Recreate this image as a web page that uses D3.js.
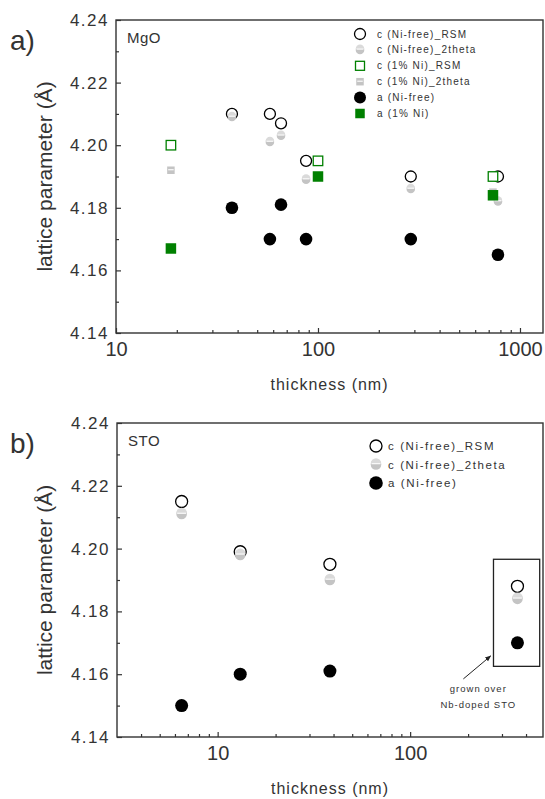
<!DOCTYPE html>
<html>
<head>
<meta charset="utf-8">
<script src="https://cdn.jsdelivr.net/npm/d3@7"></script>
<style>
  body { margin: 0; background: #fff; }
  svg text { font-family: "Liberation Sans", Arial, sans-serif; fill: #333; }
</style>
</head>
<body>
<svg id="main" width="545" height="799"></svg>
<script>
// ---- panel a) MgO ----
const thickNiFreeA = [37.5, 57.8, 65.6, 87.3, 288, 778];
const cRsmNiFreeA = [4.210, 4.210, 4.207, 4.195, 4.190, 4.190];
const c2thNiFreeA = [4.209, 4.201, 4.203, 4.189, 4.186, 4.182];
const aNiFreeA = [4.180, 4.170, 4.181, 4.170, 4.170, 4.165];
const thickNiA = [18.7, 100, 735];
const cRsmNiA = [4.200, 4.195, 4.190];
const c2thNiA = [4.192, 4.190, 4.185];
const aNiA = [4.167, 4.190, 4.184];
const legendA = ["c (Ni-free)_RSM", "c (Ni-free)_2theta", "c (1% Ni)_RSM",
  "c (1% Ni)_2theta", "a (Ni-free)", "a (1% Ni)"];

// ---- panel b) STO ----
const thickB = [6.5, 13.1, 38.3, 361];
const cRsmB = [4.215, 4.199, 4.195, 4.188];
const c2thB = [4.211, 4.198, 4.190, 4.184];
const aB = [4.150, 4.160, 4.161, 4.170];
const legendB = ["c (Ni-free)_RSM", "c (Ni-free)_2theta", "a (Ni-free)"];
const noteB = ["grown over", "Nb-doped STO"];

// axes
const yMajor = [4.14, 4.16, 4.18, 4.20, 4.22, 4.24];
const yMinor = [4.15, 4.17, 4.19, 4.21, 4.23];
const xMajorA = [10, 100, 1000];
const xMinorA = [20, 30, 40, 50, 60, 70, 80, 90, 200, 300, 400, 500, 600, 700, 800, 900];
const xMajorB = [10, 100];
const xMinorB = [4, 5, 6, 7, 8, 9, 20, 30, 40, 50, 60, 70, 80, 90, 200, 300, 400];

const svg = d3.select("#main");
const GREEN = "#008000";

// marker helpers
function openCircle(g, r) {
  g.append("circle").attr("r", r).attr("fill", "none")
    .attr("stroke", "#000").attr("stroke-width", 1.3);
}
function halfCircle(g, r) {
  g.append("circle").attr("r", r).attr("fill", "#c4c4c4");
  g.append("path").attr("d", `M${-r},-1 A${r},${r} 0 0 1 ${r},-1 Z`).attr("fill", "#dadada");
  g.append("line").attr("x1", -r + 0.8).attr("x2", r - 0.8).attr("y1", -0.8).attr("y2", -0.8)
    .attr("stroke", "#fff").attr("stroke-width", 1.1);
}
function openSquare(g, s) {
  g.append("rect").attr("x", -s / 2).attr("y", -s / 2).attr("width", s).attr("height", s)
    .attr("fill", "#fff").attr("stroke", GREEN).attr("stroke-width", 1.3);
}
function graySquare(g, s) {
  g.append("rect").attr("x", -s / 2).attr("y", -s / 2).attr("width", s).attr("height", s)
    .attr("fill", "#c4c4c4");
  g.append("line").attr("x1", -s / 2 + 1).attr("x2", s / 2 - 1).attr("y1", -0.5).attr("y2", -0.5)
    .attr("stroke", "#fff").attr("stroke-width", 1.1);
}
function dot(g, r) {
  g.append("circle").attr("r", r).attr("fill", "#000");
}
function greenSquare(g, s) {
  g.append("rect").attr("x", -s / 2).attr("y", -s / 2).attr("width", s).attr("height", s)
    .attr("fill", GREEN);
}

function drawSeries(root, x, y, xs, ys, draw) {
  xs.forEach((xv, i) => {
    const g = root.append("g").attr("transform", `translate(${x(xv)},${y(ys[i])})`);
    draw(g);
  });
}

function makePanel(p) {
  const x = d3.scaleLog().domain(p.xDomain).range([p.left, p.right]);
  const y = d3.scaleLinear().domain([4.14, 4.24]).range([p.bottom, p.top]);

  // frame
  svg.append("rect").attr("x", p.left).attr("y", p.top)
    .attr("width", p.right - p.left).attr("height", p.bottom - p.top)
    .attr("fill", "none").attr("stroke", "#333").attr("stroke-width", 1.4);

  // x axis
  const gx = svg.append("g").attr("transform", `translate(0,${p.bottom})`);
  gx.call(d3.axisBottom(x).tickValues(p.xMajor).tickSize(-5).tickPadding(9)
      .tickFormat(d3.format("d")))
    .call(g => g.select(".domain").remove())
    .call(g => g.selectAll("line").attr("stroke", "#333").attr("stroke-width", 1.2))
    .call(g => g.selectAll("text").attr("font-size", 20).attr("fill", "#333"));
  svg.append("g").attr("transform", `translate(0,${p.bottom})`)
    .call(d3.axisBottom(x).tickValues(p.xMinor).tickSize(-3).tickFormat(""))
    .call(g => g.select(".domain").remove())
    .call(g => g.selectAll("line").attr("stroke", "#333").attr("stroke-width", 1.2));

  // y axis
  svg.append("g").attr("transform", `translate(${p.left},0)`)
    .call(d3.axisLeft(y).tickValues(yMajor).tickSize(-5).tickPadding(7)
      .tickFormat(d3.format(".2f")))
    .call(g => g.select(".domain").remove())
    .call(g => g.selectAll("line").attr("stroke", "#333").attr("stroke-width", 1.2))
    .call(g => g.selectAll("text").attr("font-size", 17).attr("letter-spacing", "1.5px")
      .attr("fill", "#333"));
  svg.append("g").attr("transform", `translate(${p.left},0)`)
    .call(d3.axisLeft(y).tickValues(yMinor).tickSize(-3).tickFormat(""))
    .call(g => g.select(".domain").remove())
    .call(g => g.selectAll("line").attr("stroke", "#333").attr("stroke-width", 1.2));

  // axis titles
  svg.append("text").attr("x", (p.left + p.right) / 2).attr("y", p.bottom + 57)
    .attr("text-anchor", "middle").attr("font-size", 16).attr("letter-spacing", "1px")
    .text("thickness (nm)");
  svg.append("text")
    .attr("transform", `translate(52,${(p.top + p.bottom) / 2}) rotate(-90)`)
    .attr("text-anchor", "middle").attr("font-size", 21)
    .text("lattice parameter (Å)");

  // panel letter & substrate
  svg.append("text").attr("x", 10).attr("y", p.top + 30).attr("font-size", 28)
    .attr("fill", "#222").text(p.letter);
  svg.append("text").attr("x", p.left + 11).attr("y", p.top + 23).attr("font-size", 15)
    .attr("letter-spacing", "0.5px").text(p.name);

  return { x, y };
}

// ===== panel a =====
const pa = { left: 116, right: 543, top: 20, bottom: 333, xDomain: [10, 1300],
  xMajor: xMajorA, xMinor: xMinorA, letter: "a)", name: "MgO" };
const A = makePanel(pa);
const plotA = svg.append("g");
drawSeries(plotA, A.x, A.y, thickNiFreeA, cRsmNiFreeA, g => openCircle(g, 5.5));
drawSeries(plotA, A.x, A.y, thickNiFreeA, c2thNiFreeA, g => halfCircle(g, 4.3));
drawSeries(plotA, A.x, A.y, thickNiA, cRsmNiA, g => openSquare(g, 9.5));
drawSeries(plotA, A.x, A.y, thickNiA, c2thNiA, g => graySquare(g, 7.5));
drawSeries(plotA, A.x, A.y, thickNiFreeA, aNiFreeA, g => dot(g, 6.3));
drawSeries(plotA, A.x, A.y, thickNiA, aNiA, g => greenSquare(g, 10.5));

// legend a
const legA = svg.append("g").attr("transform", "translate(360,34)");
const markA = [g => openCircle(g, 5.5), g => halfCircle(g, 4.3), g => openSquare(g, 9),
  g => graySquare(g, 7.5), g => dot(g, 6), g => greenSquare(g, 9.5)];
legendA.forEach((t, i) => {
  const row = legA.append("g").attr("transform", `translate(0,${i * 15.9})`);
  markA[i](row);
  row.append("text").attr("x", 17).attr("y", 3.5).attr("font-size", 10)
    .attr("letter-spacing", "1.2px").attr("fill", "#666").text(t);
});

// ===== panel b =====
const pb = { left: 117, right: 543, top: 423, bottom: 737, xDomain: [3, 490],
  xMajor: xMajorB, xMinor: xMinorB, letter: "b)", name: "STO" };
const B = makePanel(pb);
const plotB = svg.append("g");
drawSeries(plotB, B.x, B.y, thickB, cRsmB, g => openCircle(g, 6));
drawSeries(plotB, B.x, B.y, thickB, c2thB, g => halfCircle(g, 5.3));
drawSeries(plotB, B.x, B.y, thickB, aB, g => dot(g, 6.5));

// legend b
const legB = svg.append("g").attr("transform", "translate(376,446)");
const markB = [g => openCircle(g, 6), g => halfCircle(g, 5.3), g => dot(g, 6.8)];
legendB.forEach((t, i) => {
  const row = legB.append("g").attr("transform", `translate(0,${i * 18.5})`);
  markB[i](row);
  row.append("text").attr("x", 12).attr("y", 4).attr("font-size", 11.5)
    .attr("letter-spacing", "1.6px").attr("fill", "#555").text(t);
});

// box around the Nb-doped STO sample + arrow note
const boxX = [271, 471], boxY = [4.1966, 4.1625];
svg.append("rect").attr("x", B.x(boxX[0])).attr("y", B.y(boxY[0]))
  .attr("width", B.x(boxX[1]) - B.x(boxX[0])).attr("height", B.y(boxY[1]) - B.y(boxY[0]))
  .attr("fill", "none").attr("stroke", "#222").attr("stroke-width", 1.3);

svg.append("defs").append("marker").attr("id", "arr").attr("viewBox", "0 0 10 10")
  .attr("refX", 9).attr("refY", 5).attr("markerWidth", 6).attr("markerHeight", 6)
  .attr("orient", "auto")
  .append("path").attr("d", "M0,1 L10,5 L0,9 Z").attr("fill", "#222");
const arrowFrom = [189, 4.1585], arrowTo = [262, 4.1658];
svg.append("line").attr("x1", B.x(arrowFrom[0])).attr("y1", B.y(arrowFrom[1]))
  .attr("x2", B.x(arrowTo[0])).attr("y2", B.y(arrowTo[1]))
  .attr("stroke", "#222").attr("stroke-width", 1).attr("marker-end", "url(#arr)");
const noteX = 226, noteY = [4.1553, 4.1503];
noteB.forEach((t, i) => {
  svg.append("text").attr("x", B.x(noteX)).attr("y", B.y(noteY[i]) + 3)
    .attr("text-anchor", "middle").attr("font-size", 9.5).attr("letter-spacing", "1px")
    .attr("fill", "#444").text(t);
});
</script>
</body>
</html>
